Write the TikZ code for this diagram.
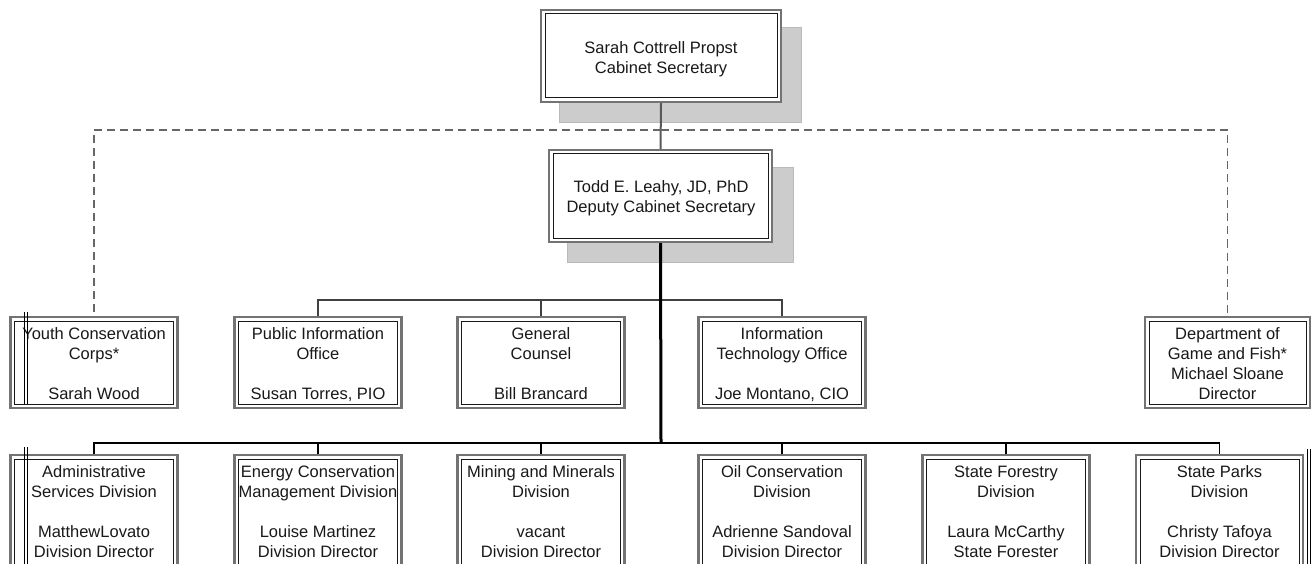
\documentclass[tikz,border=0pt]{standalone}
\usepackage{fontspec}
\setmainfont{Liberation Sans}
\begin{document}
\begin{tikzpicture}[x=1pt,y=-1pt,
  frame/.style={draw=black!55, line width=2.4pt, fill=white, inner sep=0pt,
    path picture={\draw[black!90, line width=1pt]
      ([shift={(4pt,-4pt)}]path picture bounding box.north west) rectangle
      ([shift={(-4pt,4pt)}]path picture bounding box.south east);}},
  rowbox/.style={frame, minimum width=167pt, minimum height=91pt},
  lowbox/.style={frame, minimum width=167pt, minimum height=130pt},
  txt/.style={inner sep=0pt, align=center, text=black!90,
    font=\fontsize{16.5}{20}\selectfont},
  shade/.style={fill=black!20, draw=black!27, line width=0.8pt},
  topline/.style={draw=black!65, line width=2pt},
  dotline/.style={draw=black!60, line width=1.2pt, dash pattern=on 8pt off 5pt},
  thinbus/.style={draw=black!75, line width=1.4pt},
  lowbus/.style={draw=black, line width=1.5pt},
  mainline/.style={draw=black, line width=3pt},
  artifact/.style={draw=black, line width=1pt}
]
\clip (0,0) rectangle (1311,564);
\fill[white] (0,0) rectangle (1311,564);

% shadows
\path[shade] (559,27) rectangle (801,122);
\path[shade] (567,167) rectangle (793,262);

% connectors (behind boxes)
\coordinate (dj) at (661,130);
\coordinate (b1) at (661,300);
\coordinate (b2) at (661,443);

% top boxes
\node[frame, minimum width=240pt, minimum height=92pt] (sec) at (661,56) {};
\node[txt, anchor=north] (sect) at (661,39) {\strut Sarah Cottrell Propst\\Cabinet Secretary};

\node[frame, minimum width=223pt, minimum height=92pt] (dep) at (660.5,196) {};
\node[txt, anchor=north] (dept) at (661,178) {\strut Todd E. Leahy, JD, PhD\\Deputy Cabinet Secretary};

% first row
\node[rowbox] (ycc) at (94,362.5) {};
\node[rowbox] (pio) at (318,362.5) {};
\node[rowbox] (gc)  at (541,362.5) {};
\node[rowbox] (ito) at (782,362.5) {};
\node[rowbox, minimum width=165pt] (gf) at (1227.5,362.5) {};

\node[txt, anchor=north] (ycct) at (94,325) {\strut Youth Conservation\\Corps*\\[20pt]Sarah Wood};
\node[txt, anchor=north] (piot) at (318,325) {\strut Public Information\\Office\\[20pt]Susan Torres, PIO};
\node[txt, anchor=north] (gct)  at (541,325) {\strut General\\Counsel\\[20pt]Bill Brancard};
\node[txt, anchor=north] (itot) at (782,325) {\strut Information\\Technology Office\\[20pt]Joe Montano, CIO};
\node[txt, anchor=north] (gft)  at (1227.5,325) {\strut Department of\\Game and Fish*\\Michael Sloane\\Director};

% second row
\node[lowbox] (adm) at (94,520) {};
\node[lowbox] (ecm) at (318,520) {};
\node[lowbox] (mmd) at (541,520) {};
\node[lowbox] (ocd) at (782,520) {};
\node[lowbox] (sfd) at (1006,520) {};
\node[lowbox, minimum width=167pt] (spd) at (1219.5,520) {};

\node[txt, anchor=north] (admt) at (94,463) {\strut Administrative\\Services Division\\[20pt]MatthewLovato\\Division Director};
\node[txt, anchor=north] (ecmt) at (318,463) {\strut Energy Conservation\\Management Division\\[20pt]Louise Martinez\\Division Director};
\node[txt, anchor=north] (mmdt) at (541,463) {\strut Mining and Minerals\\Division\\[20pt]vacant\\Division Director};
\node[txt, anchor=north] (ocdt) at (782,463) {\strut Oil Conservation\\Division\\[20pt]Adrienne Sandoval\\Division Director};
\node[txt, anchor=north] (sfdt) at (1006,463) {\strut State Forestry\\Division\\[20pt]Laura McCarthy\\State Forester};
\node[txt, anchor=north] (spdt) at (1219.5,463) {\strut State Parks\\Division\\[20pt]Christy Tafoya\\Division Director};

% connectors
\draw[topline] (sec.south) -- (dep.north);
\draw[dotline] (dj) -| (ycc.north);
\draw[dotline] (dj) -| (gf.north);
\draw[thinbus] (b1) -| (pio.north);
\draw[thinbus] (b1) -| (gc.north);
\draw[thinbus] (b1) -| (ito.north);
\draw[lowbus] (b2) -| (adm.north);
\draw[lowbus] (b2) -| (ecm.north);
\draw[lowbus] (b2) -| (mmd.north);
\draw[lowbus] (b2) -| (ocd.north);
\draw[lowbus] (b2) -| (sfd.north);
\draw[lowbus] (b2) -| (spd.north);
\draw[mainline] (dep.south) -- (b2);

% stray double vertical lines
\draw[artifact] (24.5,312) -- (24.5,404);
\draw[artifact] (27.5,312) -- (27.5,404);
\draw[artifact] (24.5,447) -- (24.5,564);
\draw[artifact] (27.5,447) -- (27.5,564);
\draw[artifact] (1307.5,449) -- (1307.5,564);
\draw[artifact] (1310.5,449) -- (1310.5,564);
\end{tikzpicture}
\end{document}
